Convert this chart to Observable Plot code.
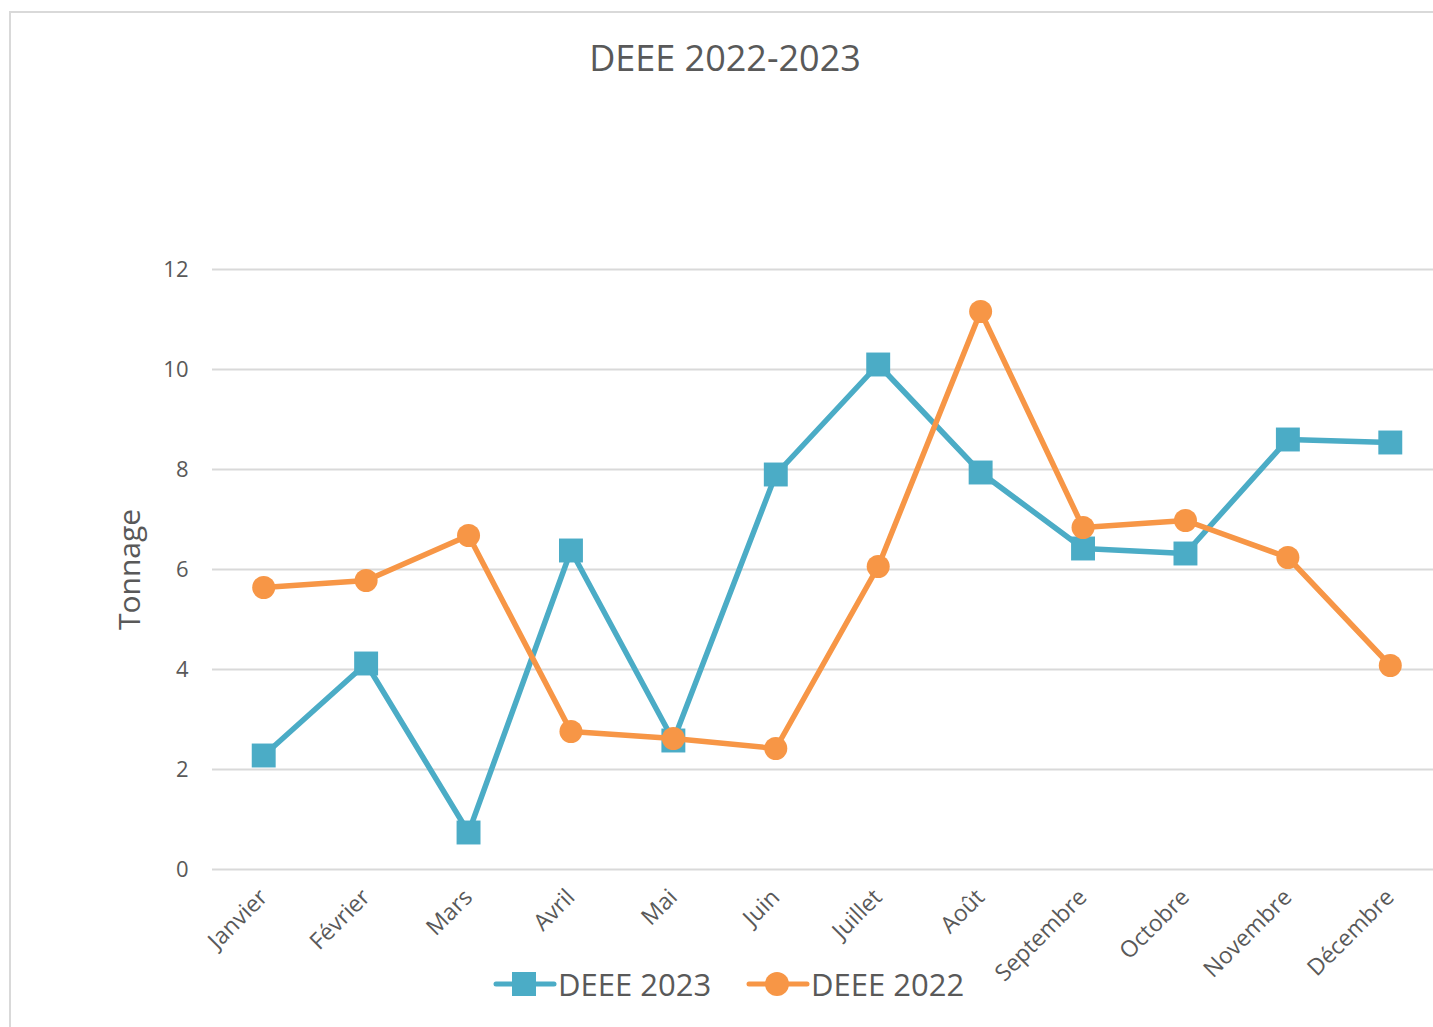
<!DOCTYPE html>
<html>
<head>
<meta charset="utf-8">
<script src="https://cdn.jsdelivr.net/npm/d3@7"></script>
<script src="https://cdn.jsdelivr.net/npm/@observablehq/plot@0.6"></script>
<style>
  html, body { margin: 0; padding: 0; background: #fff; }
  #wrap { position: relative; width: 1433px; height: 1027px; overflow: hidden; font-family: "Open Sans", sans-serif; }
  #border { position: absolute; left: 9px; top: 11px; width: 1440px; height: 1040px; border-left: 2px solid #d9d9d9; border-top: 2px solid #d9d9d9; }
  #chart { position: absolute; left: 0; top: 0; }
  #title { position: absolute; left: 0; width: 1450px; top: 33px; text-align: center; font-size: 36px; color: #595959; }
  #legend { position: absolute; top: 962px; left: 0; width: 1433px; height: 44px; }
  .lg { position: absolute; top: 0; height: 44px; display: flex; align-items: center; font-size: 31px; color: #595959; }
</style>
</head>
<body>
<div id="wrap">
  <div id="border"></div>
  <div id="chart"></div>
  <div id="title">DEEE 2022-2023</div>
  <div id="legend"></div>
</div>
<script>
const months = ["Janvier","Février","Mars","Avril","Mai","Juin","Juillet","Août","Septembre","Octobre","Novembre","Décembre"];
const deee2023 = [2.28, 4.12, 0.74, 6.38, 2.58, 7.9, 10.1, 7.94, 6.42, 6.32, 8.6, 8.54];
const deee2022 = [5.64, 5.78, 6.68, 2.76, 2.62, 2.42, 6.06, 11.16, 6.84, 6.98, 6.24, 4.08];
const yTicks = [0, 2, 4, 6, 8, 10, 12];
const seriesNames = ["DEEE 2023", "DEEE 2022"];
const colors = ["#4bacc6", "#f79646"];

const d23 = months.map((m, i) => ({month: m, value: deee2023[i]}));
const d22 = months.map((m, i) => ({month: m, value: deee2022[i]}));

const chart = Plot.plot({
  width: 1433,
  height: 1027,
  marginTop: 269,
  marginBottom: 158,
  marginLeft: 212,
  marginRight: 0,
  style: {background: "transparent", fontFamily: "Open Sans, sans-serif", color: "#595959", overflow: "visible"},
  x: {type: "band", domain: months, padding: 0, round: false, range: [212, 1441], label: null},
  y: {domain: [0, 12], label: null},
  marks: [
    Plot.ruleY(yTicks, {stroke: "#d9d9d9", strokeWidth: 2}),
    Plot.axisY({ticks: yTicks, tickSize: 0, tickPadding: 24, fontSize: 22, label: null}),
    Plot.axisX({tickRotate: -45, tickSize: 0, tickPadding: 24, fontSize: 23, label: null}),
    Plot.text(["Tonnage"], {frameAnchor: "left", dx: -82, rotate: -90, textAnchor: "middle", fontSize: 30, fill: "#595959"}),
    Plot.line(d23, {x: "month", y: "value", stroke: colors[0], strokeWidth: 5.5}),
    Plot.dot(d23, {x: "month", y: "value", symbol: "square", r: 13.5, fill: colors[0], stroke: "none"}),
    Plot.line(d22, {x: "month", y: "value", stroke: colors[1], strokeWidth: 5.5}),
    Plot.dot(d22, {x: "month", y: "value", symbol: "circle", r: 11.5, fill: colors[1], stroke: "none"})
  ]
});
document.getElementById("chart").appendChild(chart);

// Legend
const legend = document.getElementById("legend");
const lgLefts = [493, 746];
seriesNames.forEach((name, i) => {
  const item = document.createElement("div");
  item.className = "lg";
  item.style.left = lgLefts[i] + "px";
  const sw = i === 0
    ? `<svg width="64" height="44"><line x1="3" y1="22" x2="61" y2="22" stroke="${colors[i]}" stroke-width="5" stroke-linecap="round"/><rect x="19" y="10" width="24" height="24" fill="${colors[i]}"/></svg>`
    : `<svg width="64" height="44"><line x1="3" y1="22" x2="61" y2="22" stroke="${colors[i]}" stroke-width="5" stroke-linecap="round"/><circle cx="31" cy="22" r="12" fill="${colors[i]}"/></svg>`;
  item.innerHTML = sw + `<span style="margin-left:1px">${name}</span>`;
  legend.appendChild(item);
});
</script>
</body>
</html>
